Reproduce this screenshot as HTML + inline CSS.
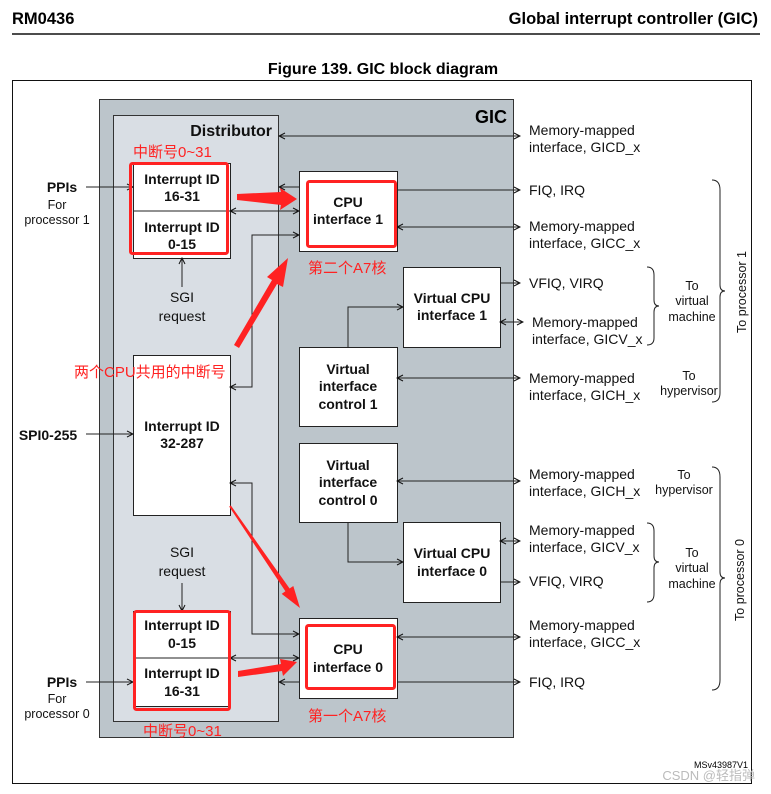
<!DOCTYPE html>
<html><head><meta charset="utf-8"><style>
html,body{margin:0;padding:0;background:#fff}
svg{display:block}
text{font-family:"Liberation Sans","Noto Sans CJK SC",sans-serif}
.b{font-weight:bold;font-size:14px;fill:#111}
.n{font-size:14px;fill:#111}
.s{font-size:12.5px;fill:#111}
.r{font-size:15px;fill:#f22;font-family:"Liberation Sans","Noto Sans CJK SC",sans-serif}
</style></head><body>
<svg width="771" height="794" viewBox="0 0 771 794" xmlns="http://www.w3.org/2000/svg">
<defs>
<marker id="a" markerWidth="8" markerHeight="8" refX="7" refY="4" orient="auto-start-reverse" markerUnits="userSpaceOnUse">
<path d="M1,1 L7,4 L1,7" fill="none" stroke="#111" stroke-width="1"/></marker>
</defs>
<text x="12" y="24" style="font-weight:bold;font-size:16.5px">RM0436</text>
<text x="758" y="24" text-anchor="end" style="font-weight:bold;font-size:16.5px">Global interrupt controller (GIC)</text>
<line x1="12" y1="34" x2="760" y2="34" stroke="#111" stroke-width="1.5"/>
<text x="383" y="74" text-anchor="middle" style="font-weight:bold;font-size:16px">Figure 139. GIC block diagram</text>
<rect x="12.5" y="80.5" width="739" height="703" fill="#fff" stroke="#111" stroke-width="1"/>

<rect x="99.5" y="99.5" width="414" height="638" fill="#bcc5cb" stroke="#333" stroke-width="1"/>
<text x="507" y="123" text-anchor="end" style="font-weight:bold;font-size:18px">GIC</text>
<rect x="113.5" y="115.5" width="165" height="606" fill="#d9dee4" stroke="#333" stroke-width="1"/>
<text x="272" y="136" text-anchor="end" class="b" style="font-size:16px">Distributor</text>

<g fill="#fff" stroke="#222" stroke-width="1">
<rect x="133.5" y="163.5" width="97" height="95"/>
<rect x="133.5" y="355.5" width="97" height="160"/>
<rect x="133.5" y="611.5" width="97" height="95"/>
<rect x="299.5" y="171.5" width="98" height="80"/>
<rect x="299.5" y="618.5" width="98" height="80"/>
<rect x="403.5" y="267.5" width="97" height="80"/>
<rect x="299.5" y="347.5" width="98" height="79"/>
<rect x="299.5" y="443.5" width="98" height="79"/>
<rect x="403.5" y="522.5" width="97" height="80"/>
</g>
<line x1="133" y1="211" x2="230" y2="211" stroke="#222"/>
<line x1="133" y1="658" x2="230" y2="658" stroke="#222"/>

<g class="b" text-anchor="middle">
<text x="182" y="184">Interrupt ID</text><text x="182" y="201">16-31</text>
<text x="182" y="232">Interrupt ID</text><text x="182" y="249">0-15</text>
<text x="182" y="431">Interrupt ID</text><text x="182" y="448">32-287</text>
<text x="182" y="630">Interrupt ID</text><text x="182" y="648">0-15</text>
<text x="182" y="678">Interrupt ID</text><text x="182" y="696">16-31</text>
<text x="348" y="207">CPU</text><text x="348" y="224">interface 1</text>
<text x="348" y="654">CPU</text><text x="348" y="672">interface 0</text>
<text x="452" y="303">Virtual CPU</text><text x="452" y="320">interface 1</text>
<text x="348" y="374">Virtual</text><text x="348" y="391">interface</text><text x="348" y="409">control 1</text>
<text x="348" y="470">Virtual</text><text x="348" y="487">interface</text><text x="348" y="505">control 0</text>
<text x="452" y="558">Virtual CPU</text><text x="452" y="576">interface 0</text>
<text x="62" y="192">PPIs</text><text x="62" y="687">PPIs</text>
<text x="48" y="440">SPI0-255</text>
</g>
<g class="s" text-anchor="middle">
<text x="57" y="209">For</text><text x="57" y="224">processor 1</text>
<text x="57" y="703">For</text><text x="57" y="718">processor 0</text>
</g>
<g class="n" text-anchor="middle">
<text x="182" y="302">SGI</text><text x="182" y="321">request</text>
<text x="182" y="557">SGI</text><text x="182" y="576">request</text>
</g>

<g stroke="#222" stroke-width="1" fill="none">
<line x1="279" y1="136" x2="520" y2="136" marker-start="url(#a)" marker-end="url(#a)"/>
<line x1="86" y1="187" x2="133" y2="187" marker-end="url(#a)"/>
<line x1="299" y1="187" x2="279" y2="187" marker-end="url(#a)"/>
<line x1="230" y1="211" x2="299" y2="211" marker-start="url(#a)" marker-end="url(#a)"/>
<line x1="182" y1="287" x2="182" y2="258" marker-end="url(#a)"/>
<polyline points="230,387 252,387 252,235 299,235" marker-start="url(#a)" marker-end="url(#a)"/>
<line x1="86" y1="434" x2="133" y2="434" marker-end="url(#a)"/>
<polyline points="230,483 252,483 252,634 299,634" marker-start="url(#a)" marker-end="url(#a)"/>
<line x1="182" y1="583" x2="182" y2="611" marker-end="url(#a)"/>
<line x1="230" y1="658" x2="299" y2="658" marker-start="url(#a)" marker-end="url(#a)"/>
<line x1="299" y1="682" x2="279" y2="682" marker-end="url(#a)"/>
<line x1="86" y1="682" x2="133" y2="682" marker-end="url(#a)"/>
<line x1="397" y1="190" x2="520" y2="190" marker-end="url(#a)"/>
<line x1="397" y1="227" x2="520" y2="227" marker-start="url(#a)" marker-end="url(#a)"/>
<line x1="500" y1="283" x2="520" y2="283" marker-end="url(#a)"/>
<line x1="500" y1="322" x2="523" y2="322" marker-start="url(#a)" marker-end="url(#a)"/>
<polyline points="348,347 348,307 403,307" marker-end="url(#a)"/>
<line x1="397" y1="378" x2="520" y2="378" marker-start="url(#a)" marker-end="url(#a)"/>
<line x1="397" y1="481" x2="520" y2="481" marker-start="url(#a)" marker-end="url(#a)"/>
<polyline points="348,522 348,562 403,562" marker-end="url(#a)"/>
<line x1="500" y1="541" x2="520" y2="541" marker-start="url(#a)" marker-end="url(#a)"/>
<line x1="500" y1="582" x2="520" y2="582" marker-end="url(#a)"/>
<line x1="397" y1="637" x2="520" y2="637" marker-start="url(#a)" marker-end="url(#a)"/>
<line x1="397" y1="682" x2="520" y2="682" marker-end="url(#a)"/>
<path d="M712,180 Q720,180 720,190 L720,285 Q720,291 725,291 Q720,291 720,297 L720,393 Q720,402 712,402"/>
<path d="M647,267 Q654,267 654,275 L654,300 Q654,306 659,306 Q654,306 654,312 L654,338 Q654,345 647,345"/>
<path d="M712,467 Q720,467 720,477 L720,572 Q720,578 725,578 Q720,578 720,584 L720,680 Q720,690 712,690"/>
<path d="M647,523 Q654,523 654,531 L654,556 Q654,562 659,562 Q654,562 654,568 L654,594 Q654,602 647,602"/>
</g>

<g class="n">
<text x="529" y="135">Memory-mapped</text><text x="529" y="152">interface, GICD_x</text>
<text x="529" y="195">FIQ, IRQ</text>
<text x="529" y="231">Memory-mapped</text><text x="529" y="248">interface, GICC_x</text>
<text x="529" y="288">VFIQ, VIRQ</text>
<text x="532" y="327">Memory-mapped</text><text x="532" y="344">interface, GICV_x</text>
<text x="529" y="383">Memory-mapped</text><text x="529" y="400">interface, GICH_x</text>
<text x="529" y="479">Memory-mapped</text><text x="529" y="496">interface, GICH_x</text>
<text x="529" y="535">Memory-mapped</text><text x="529" y="552">interface, GICV_x</text>
<text x="529" y="586">VFIQ, VIRQ</text>
<text x="529" y="630">Memory-mapped</text><text x="529" y="647">interface, GICC_x</text>
<text x="529" y="687">FIQ, IRQ</text>
</g>
<g class="s" text-anchor="middle">
<text x="692" y="290">To</text><text x="692" y="305">virtual</text><text x="692" y="321">machine</text>
<text x="689" y="380">To</text><text x="689" y="395">hypervisor</text>
<text x="684" y="479">To</text><text x="684" y="494">hypervisor</text>
<text x="692" y="557">To</text><text x="692" y="572">virtual</text><text x="692" y="588">machine</text>
<text transform="translate(746,292) rotate(-90)">To processor 1</text>
<text transform="translate(744,580) rotate(-90)">To processor 0</text>
</g>
<text x="748" y="768" text-anchor="end" style="font-size:9px">MSv43987V1</text>
<text x="755" y="780" text-anchor="end" style="font-size:13px;fill:#bbb">CSDN @轻指弹</text>

<g fill="none" stroke="#f22" stroke-width="3">
<rect x="130.5" y="163.5" width="97" height="90" rx="2"/>
<rect x="307.5" y="181.5" width="88" height="65" rx="2"/>
<rect x="134.5" y="611.5" width="95" height="98" rx="2"/>
<rect x="306.5" y="625.5" width="88" height="63" rx="2"/>
</g>
<g fill="#f22">
<polygon points="237,194 281,192 280,188 297,199 280,210 281,205 237,200"/>
<polygon points="234,345 272,280 267,277 288,258 283,287 277,284 239,348"/>
<polygon points="230.8,505.4 289.6,588.5 293.3,586 300,608 281.7,593.9 285.4,591.3 229.2,506.6"/>
<polygon points="238,671 281,664 280,659 297,662 283,676 282,671 238,677"/>
</g>
<g class="r">
<text x="133" y="157">中断号0~31</text>
<text x="308" y="273">第二个A7核</text>
<text x="74" y="377">两个CPU共用的中断号</text>
<text x="308" y="721">第一个A7核</text>
<text x="143" y="736">中断号0~31</text>
</g>
</svg>
</body></html>
